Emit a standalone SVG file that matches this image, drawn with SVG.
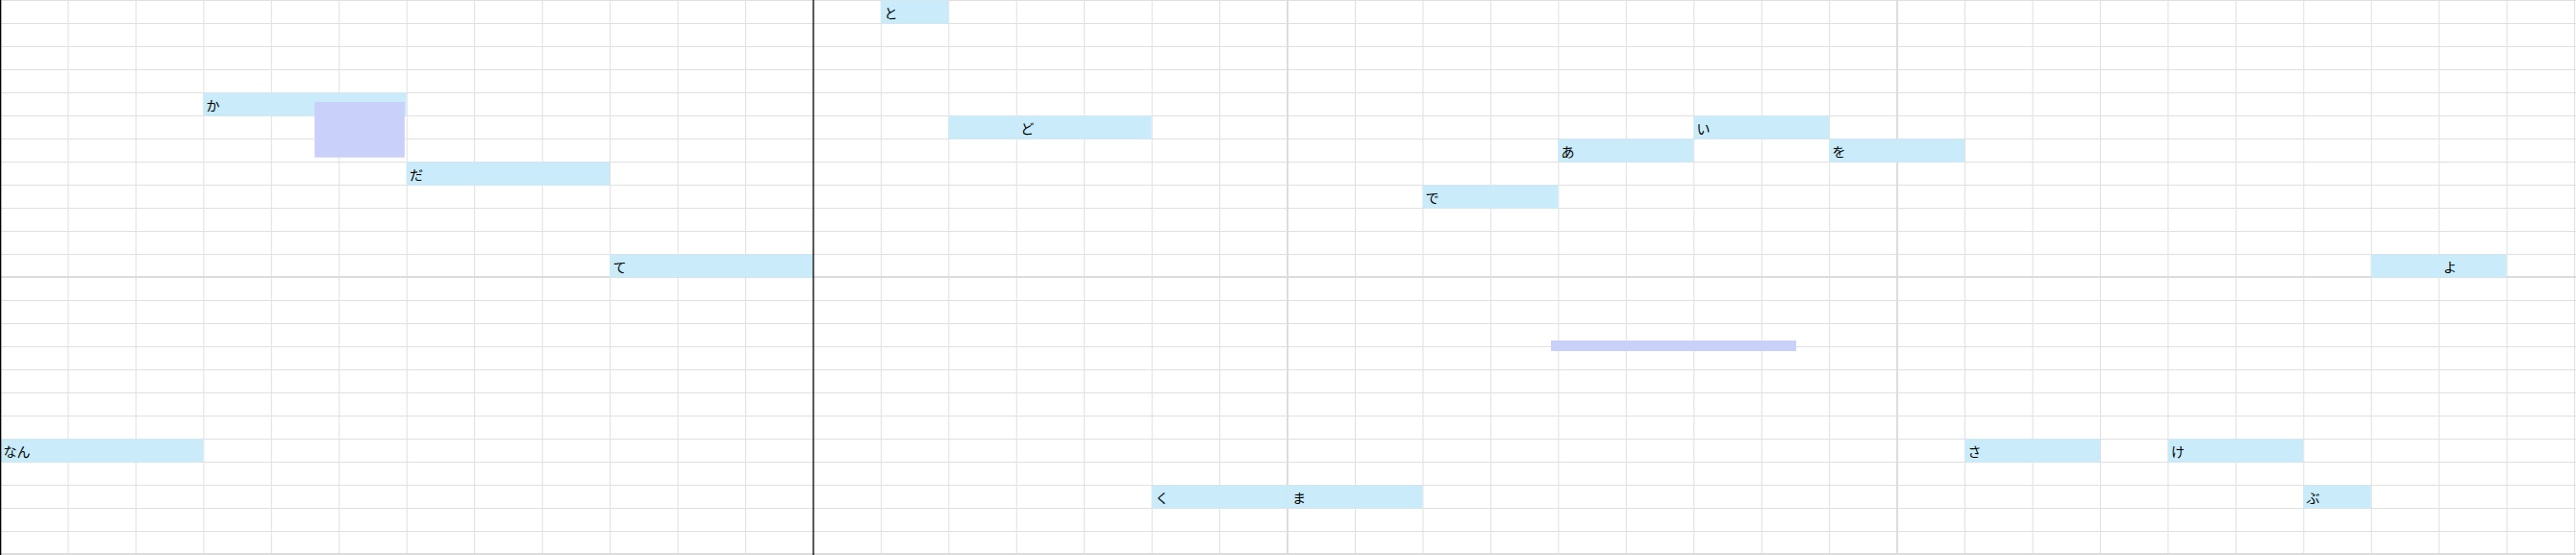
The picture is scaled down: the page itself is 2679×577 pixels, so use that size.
<svg xmlns="http://www.w3.org/2000/svg" width="2679" height="577" viewBox="0 0 2679 577">
<style>
.bg{fill:#ffffff}
.grid{stroke:#e0e0e0;stroke-width:1;fill:none}
.thick{stroke:#dcdcdc;stroke-width:2;fill:none}
.axis{stroke:#000000;stroke-width:1.3;fill:none}
.note{fill:#c9ebfa}
.sel{fill:#c9d0fa}
.lbl{font-family:"Noto Sans CJK JP","Noto Sans",sans-serif;font-size:14px;fill:#000000;dominant-baseline:central}
</style>
<rect class="bg" x="0" y="0" width="2679" height="577"/>
<g id="grid">
<path class="grid" d="M0 0.5H2679M0 24.5H2679M0 48.5H2679M0 72.5H2679M0 96.5H2679M0 120.5H2679M0 144.5H2679M0 168.5H2679M0 192.5H2679M0 216.5H2679M0 240.5H2679M0 264.5H2679M0 312.5H2679M0 336.5H2679M0 360.5H2679M0 384.5H2679M0 408.5H2679M0 432.5H2679M0 456.5H2679M0 480.5H2679M0 504.5H2679M0 528.5H2679M0 552.5H2679"/>
<path class="grid" d="M70.95 0V577M141.4 0V577M211.85 0V577M282.3 0V577M352.75 0V577M423.2 0V577M493.65 0V577M564.1 0V577M634.55 0V577M705 0V577M775.45 0V577M916.35 0V577M986.8 0V577M1057.25 0V577M1127.7 0V577M1198.15 0V577M1268.6 0V577M1409.5 0V577M1479.95 0V577M1550.4 0V577M1620.85 0V577M1691.3 0V577M1761.75 0V577M1832.2 0V577M1902.65 0V577M2043.55 0V577M2114 0V577M2184.45 0V577M2254.9 0V577M2325.35 0V577M2395.8 0V577M2466.25 0V577M2536.7 0V577M2607.15 0V577M2677.6 0V577"/>
<path class="thick" d="M1339.05 0V577M1973.1 0V577M0 288H2679M0 576H2679"/>
</g>
<g id="node-ka"><rect class="note" x="211.35" y="96.5" width="211.35" height="24"/><text class="lbl" x="214.5" y="108.5">か</text></g>
<g id="node-da"><rect class="note" x="422.7" y="168.5" width="211.35" height="24"/><text class="lbl" x="426" y="180.5">だ</text></g>
<g id="node-te"><rect class="note" x="634.05" y="264.5" width="211.35" height="24"/><text class="lbl" x="637.5" y="276.5">て</text></g>
<g id="node-nan"><rect class="note" x="0" y="456.5" width="211.35" height="24"/><text class="lbl" x="3.5" y="468.5">なん</text></g>
<g id="node-to"><rect class="note" x="915.85" y="0.5" width="70.45" height="24"/><text class="lbl" x="919.5" y="12.5">と</text></g>
<g id="node-do"><rect class="note" x="986.3" y="120.5" width="211.35" height="24"/><text class="lbl" x="1061.5" y="132.5">ど</text></g>
<g id="node-de"><rect class="note" x="1479.45" y="192.5" width="140.9" height="24"/><text class="lbl" x="1482.5" y="204.5">で</text></g>
<g id="node-a"><rect class="note" x="1620.35" y="144.5" width="140.9" height="24"/><text class="lbl" x="1623.5" y="156.5">あ</text></g>
<g id="node-i"><rect class="note" x="1761.25" y="120.5" width="140.9" height="24"/><text class="lbl" x="1764.5" y="132.5">い</text></g>
<g id="node-wo"><rect class="note" x="1902.15" y="144.5" width="140.9" height="24"/><text class="lbl" x="1905.5" y="156.5">を</text></g>
<g id="node-yo"><rect class="note" x="2465.75" y="264.5" width="140.9" height="24"/><text class="lbl" x="2541" y="276.5">よ</text></g>
<g id="node-ku"><rect class="note" x="1197.65" y="504.5" width="140.9" height="24"/><text class="lbl" x="1201.5" y="516.5">く</text></g>
<g id="node-ma"><rect class="note" x="1338.55" y="504.5" width="140.9" height="24"/><text class="lbl" x="1344" y="516.5">ま</text></g>
<g id="node-sa"><rect class="note" x="2043.05" y="456.5" width="140.9" height="24"/><text class="lbl" x="2046.5" y="468.5">さ</text></g>
<g id="node-ke"><rect class="note" x="2254.4" y="456.5" width="140.9" height="24"/><text class="lbl" x="2258" y="468.5">け</text></g>
<g id="node-bu"><rect class="note" x="2395.3" y="504.5" width="70.45" height="24"/><text class="lbl" x="2398.5" y="516.5">ぶ</text></g>
<g id="selection-1"><rect class="sel" x="327.2" y="106" width="93.6" height="57.7"/></g>
<g id="selection-2"><rect class="sel" x="1613" y="354" width="255" height="11"/></g>
<g id="axes"><path class="axis" d="M0.65 0V577M845.9 0V577"/></g>
</svg>
